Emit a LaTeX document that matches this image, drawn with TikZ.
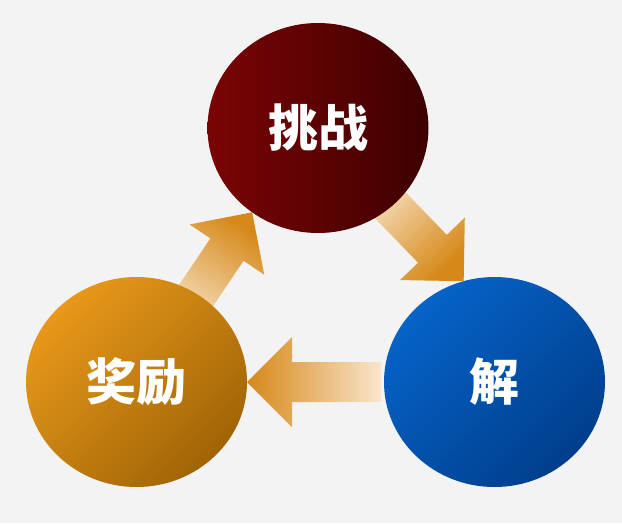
\documentclass[tikz,border=0pt]{standalone}
\usepackage{fontspec}
\usepackage{tikz}
\usetikzlibrary{shapes.geometric}
\newfontfamily\cjk{Noto Sans CJK SC}
\definecolor{bggray}{RGB}{243, 243, 243}
\definecolor{redlight}{RGB}{122, 4, 4}
\definecolor{reddark}{RGB}{62, 0, 0}
\definecolor{bluelight}{RGB}{6, 99, 200}
\definecolor{bluedark}{RGB}{0, 62, 140}
\definecolor{orangelight}{RGB}{232, 152, 26}
\definecolor{orangedark}{RGB}{160, 100, 6}
\definecolor{arrowlight}{RGB}{248, 230, 204}
\definecolor{arrowdark}{RGB}{214, 136, 24}
\pgfdeclarelayer{bg}
\pgfdeclarelayer{arrows}
\pgfsetlayers{bg,arrows,main}

\begin{document}
\begin{tikzpicture}[x=1pt, y=1pt,
    stage/.style={ellipse, inner sep=0pt, outer sep=0pt,
        minimum width=221pt, minimum height=210pt, text=white,
        font=\cjk\bfseries\fontsize{50}{60}\selectfont},
    flow/.style={top color=arrowlight, bottom color=arrowdark}]
    % Background
    \begin{pgfonlayer}{bg}
        \fill[bggray] (0,0) rectangle (622,-523);
    \end{pgfonlayer}

    % Stages
    \node[stage, left color=redlight, right color=reddark] (challenge) at (318,-128) {挑战};
    \node[stage, top color=bluelight, bottom color=bluedark, shading angle=45] (solve) at (494.5,-382) {解};
    \node[stage, top color=orangelight, bottom color=orangedark, shading angle=45] (reward) at (136.5,-382) {奖励};

    % Block arrows: tip on the next stage, direction
    \begin{pgfonlayer}{arrows}
        \foreach \tip/\dir [evaluate=\dir as \shade using \dir+90] in {solve.107/-46, reward.east/180, challenge.232/56}
            \path[flow, shading angle=\shade, shift={(\tip)}, rotate=\dir]
                (0,0) -- (-45,45) -- (-45,20) -- (-134,20) -- (-134,-20) -- (-45,-20) -- (-45,-45) -- cycle;
    \end{pgfonlayer}
\end{tikzpicture}
\end{document}
